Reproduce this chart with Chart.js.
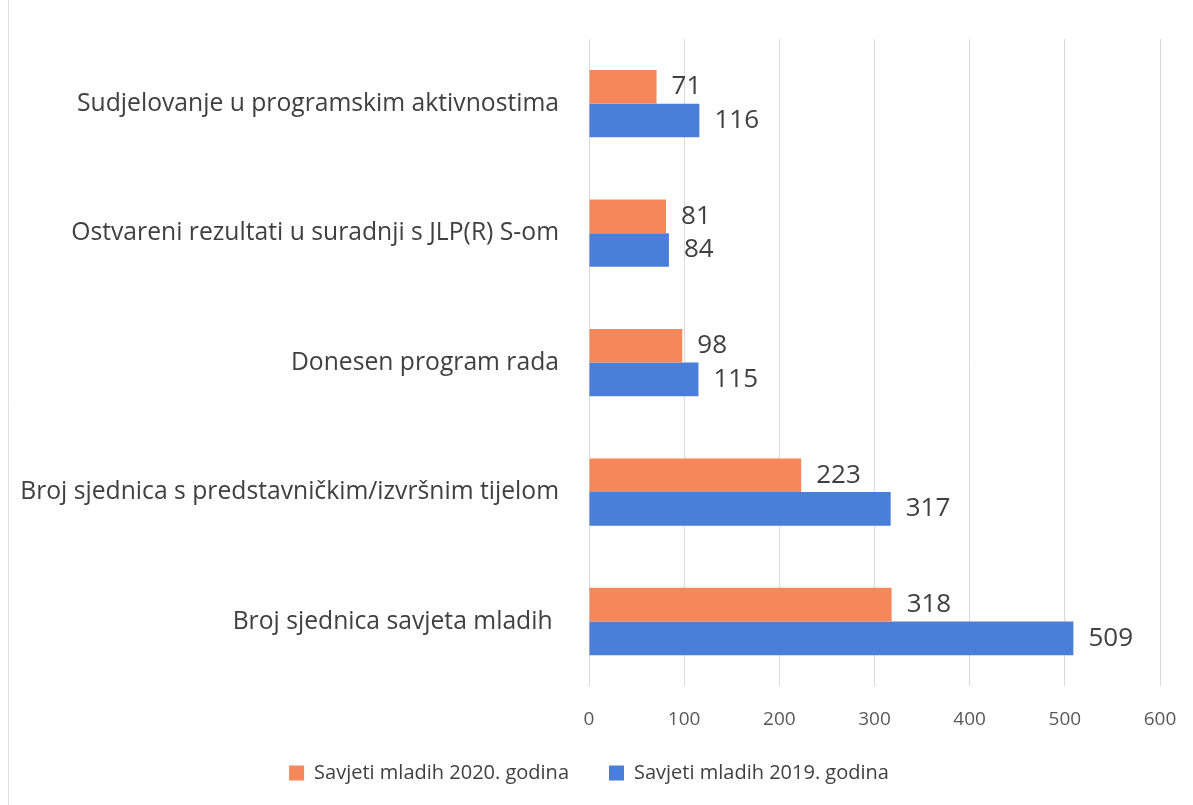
<!DOCTYPE html>
<html>
<head>
<meta charset="utf-8">
<script src="https://cdn.jsdelivr.net/npm/chart.js@4"></script>
<style>
  html, body { margin: 0; padding: 0; background: #fff; }
  #wrap { width: 1193px; height: 805px; position: relative; }
</style>
</head>
<body>
<div id="wrap"><canvas id="chart"></canvas></div>
<script>
// values
var categories = [
    'Sudjelovanje u programskim aktivnostima',
    'Ostvareni rezultati u suradnji s JLP(R) S-om',
    'Donesen program rada',
    'Broj sjednica s predstavničkim/izvršnim tijelom',
    'Broj sjednica savjeta mladih '
];
var series2020 = [71, 81, 98, 223, 318];
var series2019 = [116, 84, 115, 317, 509];
var seriesNames = ['Savjeti mladih 2020. godina', 'Savjeti mladih 2019. godina'];
var xTicks = [0, 100, 200, 300, 400, 500, 600];

var FONT = '"Open Sans", sans-serif';
var TEXT = '#404040';

// value labels to the right of each bar
var valueLabels = {
    id: 'valueLabels',
    afterDatasetsDraw: function(chart) {
        var ctx = chart.ctx;
        ctx.save();
        ctx.font = '26px ' + FONT;
        ctx.fillStyle = TEXT;
        ctx.textBaseline = 'middle';
        ctx.textAlign = 'left';
        chart.data.datasets.forEach(function(ds, i) {
            chart.getDatasetMeta(i).data.forEach(function(bar, j) {
                ctx.fillText(ds.data[j], bar.x + 15, bar.y);
            });
        });
        ctx.restore();
    }
};

// faint frame line on the left edge of the scan
var frameLine = {
    id: 'frameLine',
    beforeDraw: function(chart) {
        var ctx = chart.ctx;
        ctx.save();
        ctx.strokeStyle = '#e0e0e0';
        ctx.lineWidth = 1;
        ctx.beginPath();
        ctx.moveTo(8.5, 0);
        ctx.lineTo(8.5, chart.height);
        ctx.stroke();
        ctx.restore();
    }
};

// pull the legend row up a bit, keeping the wide gap between the items
var legendNudge = {
    id: 'legendNudge',
    afterLayout: function(chart) {
        chart.legend.top -= 30;
        chart.legend.bottom -= 30;
    }
};

new Chart(document.getElementById('chart'), {
    type: 'bar',
    data: {
        labels: categories,
        datasets: [
            { label: seriesNames[0], data: series2020, backgroundColor: '#f5885a' },
            { label: seriesNames[1], data: series2019, backgroundColor: '#4a7fd9' }
        ]
    },
    options: {
        indexAxis: 'y',
        responsive: true,
        maintainAspectRatio: false,
        animation: false,
        layout: { padding: { top: 39, left: 18, right: 33, bottom: -18 } },
        datasets: { bar: { barPercentage: 1, categoryPercentage: 0.52 } },
        scales: {
            x: {
                min: 0,
                max: 600,
                afterBuildTicks: function(axis) {
                    axis.ticks = xTicks.map(function(v) { return { value: v }; });
                },
                // the layout padding already leaves room for the end labels
                afterFit: function(axis) {
                    axis.paddingLeft = 0;
                    axis.paddingRight = 0;
                },
                grid: { color: '#d9d9d9', drawTicks: false },
                border: { display: false },
                ticks: { color: '#595959', font: { family: FONT, size: 19 }, padding: 22 }
            },
            y: {
                afterFit: function(axis) {
                    axis.paddingTop = 0;
                    axis.paddingBottom = 0;
                },
                grid: { display: false, drawTicks: false },
                border: { display: false },
                ticks: { color: TEXT, font: { family: FONT, size: 24.7 }, padding: 30 }
            }
        },
        plugins: {
            legend: {
                position: 'bottom',
                labels: {
                    color: TEXT,
                    font: { family: FONT, size: 20 },
                    boxWidth: 15,
                    boxHeight: 15,
                    padding: 40
                }
            },
            tooltip: { enabled: false }
        }
    },
    plugins: [valueLabels, frameLine, legendNudge]
});
</script>
</body>
</html>
